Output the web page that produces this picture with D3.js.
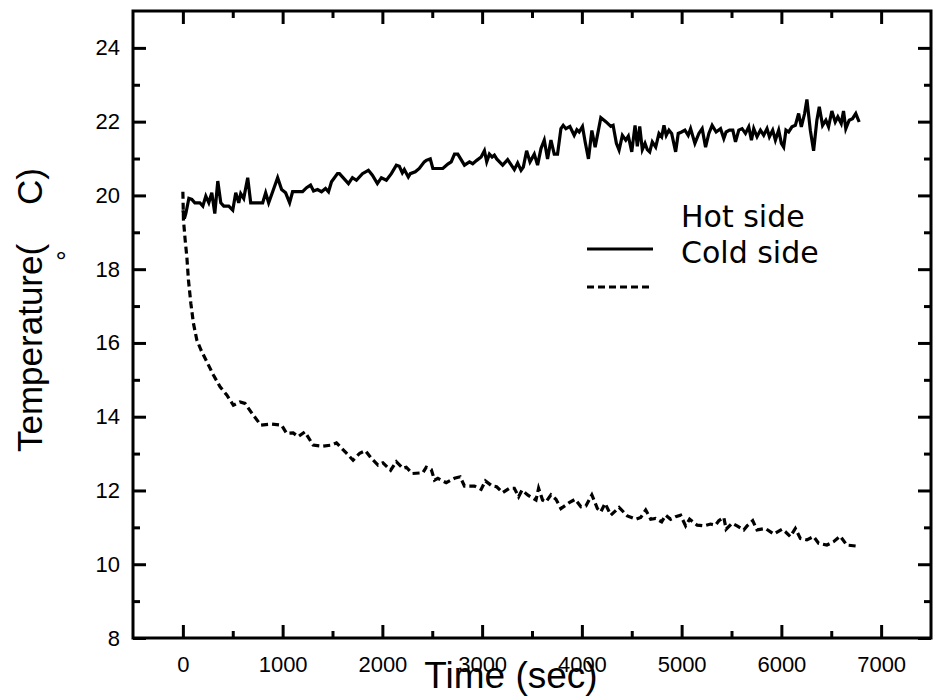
<!DOCTYPE html>
<html><head><meta charset="utf-8">
<script src="https://cdnjs.cloudflare.com/ajax/libs/d3/7.8.5/d3.min.js"></script>
<style>
html,body{margin:0;padding:0;background:#fff;}
svg{display:block;}
</style></head>
<body><svg id="c" width="937" height="696"></svg>
<script>
// ---- data ----
const hotTime = [0,15,30,60,90,120,170,200,230,260,290,320,350,380,410,460,500,530,560,580,610,650,680,800,830,860,900,950,990,1030,1070,1100,1200,1240,1280,1310,1350,1390,1430,1460,1490,1550,1570,1660,1700,1740,1800,1860,1900,1950,1990,2040,2090,2140,2170,2200,2220,2260,2280,2330,2370,2420,2440,2480,2506,2606,2656,2690,2723,2756,2823,2873,2906,2946,2990,3023,3046,3073,3100,3123,3146,3206,3256,3323,3356,3390,3413,3446,3480,3523,3556,3590,3623,3656,3690,3723,3756,3790,3813,3840,3880,3923,3950,3973,4006,4033,4066,4100,4133,4190,4240,4290,4313,4346,4373,4406,4440,4466,4500,4533,4556,4580,4606,4633,4656,4680,4706,4740,4773,4800,4823,4846,4873,4900,4940,4966,5000,5033,5066,5090,5133,5173,5206,5240,5273,5306,5346,5390,5423,5446,5480,5513,5540,5573,5606,5640,5673,5700,5723,5756,5790,5823,5856,5880,5913,5940,5973,6000,6023,6046,6073,6106,6140,6173,6200,6233,6256,6290,6323,6356,6380,6413,6446,6473,6506,6540,6566,6600,6623,6646,6680,6713,6746,6780];
const hotTemp = [19.60,19.37,19.51,19.92,19.89,19.80,19.80,19.71,19.98,19.80,20.07,19.51,20.39,19.80,19.71,19.71,19.60,20.07,19.80,20.05,19.92,20.48,19.80,19.80,20.07,19.80,20.10,20.48,20.16,20.07,19.80,20.10,20.10,20.21,20.28,20.12,20.16,20.10,20.19,20.10,20.37,20.59,20.59,20.32,20.48,20.41,20.59,20.68,20.55,20.32,20.48,20.41,20.59,20.82,20.79,20.61,20.70,20.50,20.59,20.64,20.73,20.91,20.95,20.99,20.73,20.73,20.85,20.91,21.12,21.12,20.82,20.91,20.86,20.95,21.04,21.21,20.91,21.12,21.04,21.09,20.99,20.82,20.97,20.70,20.88,20.68,20.77,21.21,20.91,21.12,20.82,21.27,21.50,20.99,21.50,21.12,21.12,21.81,21.90,21.81,21.87,21.63,21.78,21.72,21.87,21.45,20.99,21.76,21.31,22.11,22.00,21.87,21.90,21.41,21.23,21.63,21.50,21.61,21.18,21.90,21.33,21.87,21.24,21.41,21.24,21.18,21.45,21.31,21.68,21.59,21.90,21.63,21.77,21.68,21.18,21.68,21.72,21.77,21.63,21.81,21.41,21.68,21.81,21.31,21.68,21.90,21.72,21.81,21.54,21.72,21.77,21.77,21.45,21.77,21.81,21.68,21.86,21.50,21.81,21.59,21.77,21.63,21.81,21.59,21.77,21.50,21.77,21.41,21.31,21.77,21.72,21.86,21.90,22.22,21.86,22.22,22.60,21.77,21.21,22.04,22.40,21.90,22.04,21.86,22.29,21.99,22.13,21.95,22.29,21.81,22.04,22.08,22.22,21.99];
const coldTime = [0,6,23,40,56,80,106,140,183,240,306,373,440,506,573,623,706,783,890,990,1040,1106,1156,1223,1306,1406,1490,1540,1640,1706,1773,1830,1890,1956,2006,2083,2140,2206,2240,2300,2406,2440,2490,2523,2556,2640,2723,2780,2823,2923,2990,3033,3100,3146,3206,3273,3323,3366,3400,3456,3540,3566,3606,3640,3690,3740,3790,3873,3933,3990,4040,4100,4156,4190,4233,4290,4373,4456,4540,4590,4640,4690,4740,4800,4840,4890,4940,4990,5040,5080,5156,5223,5290,5340,5373,5423,5446,5506,5556,5623,5656,5713,5756,5840,5923,6006,6040,6090,6140,6190,6256,6323,6373,6456,6523,6590,6656,6756];
const coldTemp = [20.10,19.33,18.79,18.33,17.70,17.07,16.53,16.08,15.80,15.49,15.13,14.81,14.59,14.31,14.40,14.36,14.04,13.77,13.80,13.77,13.55,13.56,13.46,13.59,13.23,13.20,13.23,13.29,13.01,12.82,13.01,13.08,12.87,12.69,12.75,12.55,12.78,12.60,12.63,12.46,12.48,12.63,12.57,12.28,12.33,12.21,12.33,12.37,12.12,12.12,12.03,12.26,12.12,12.10,11.94,12.06,12.06,11.83,12.01,11.88,11.74,12.06,11.74,11.69,11.88,11.76,11.51,11.67,11.76,11.56,11.58,11.88,11.51,11.42,11.65,11.33,11.54,11.31,11.22,11.27,11.47,11.22,11.24,11.15,11.33,11.22,11.29,11.33,11.04,11.22,11.06,11.04,11.09,11.06,11.18,11.27,10.95,11.11,11.04,10.93,11.04,11.18,10.93,10.97,10.82,10.95,10.88,10.75,10.97,10.70,10.66,10.75,10.57,10.52,10.61,10.76,10.52,10.49];
const xMajor = [0,1000,2000,3000,4000,5000,6000,7000];
const xMinor = [500,1500,2500,3500,4500,5500,6500];
const yMajor = [8,10,12,14,16,18,20,22,24];
const yMinor = [9,11,13,15,17,19,21,23];
const seriesNames = ["Hot side","Cold side"];
const xTitle = "Time (sec)";
const yTitle = "Temperature(";
const yTitleEnd = "C)";

// ---- drawing ----
const ARIAL = "Liberation Sans, Arial, sans-serif";
const LEG = "DejaVu Sans, sans-serif";
const svg = d3.select("#c");
const L=133, R=931, T=11, B=638;
const x = d3.scaleLinear().domain([-500,7500]).range([L,R]);
const y = d3.scaleLinear().domain([8,25]).range([B,T]);

function styleAxis(g){
  g.select(".domain").remove();
  g.selectAll(".tick line").attr("stroke","#000").attr("stroke-width",3);
  g.selectAll(".tick text").attr("font-size",22).attr("font-family",ARIAL).attr("fill","#000");
}
// bottom
svg.append("g").attr("transform",`translate(0,${B})`)
  .call(d3.axisBottom(x).tickValues(xMajor).tickSize(-13).tickPadding(18).tickFormat(d3.format("d"))).call(styleAxis);
svg.append("g").attr("transform",`translate(0,${B})`)
  .call(d3.axisBottom(x).tickValues(xMinor).tickSize(-7).tickFormat("")).call(styleAxis);
// top
svg.append("g").attr("transform",`translate(0,${T})`)
  .call(d3.axisTop(x).tickValues(xMajor).tickSize(-13).tickFormat("")).call(styleAxis);
svg.append("g").attr("transform",`translate(0,${T})`)
  .call(d3.axisTop(x).tickValues(xMinor).tickSize(-7).tickFormat("")).call(styleAxis);
// left
svg.append("g").attr("transform",`translate(${L},0)`)
  .call(d3.axisLeft(y).tickValues(yMajor).tickSize(-13).tickPadding(13).tickFormat(d3.format("d"))).call(styleAxis);
svg.append("g").attr("transform",`translate(${L},0)`)
  .call(d3.axisLeft(y).tickValues(yMinor).tickSize(-7).tickFormat("")).call(styleAxis);
// right
svg.append("g").attr("transform",`translate(${R},0)`)
  .call(d3.axisRight(y).tickValues(yMajor).tickSize(-13).tickFormat("")).call(styleAxis);
svg.append("g").attr("transform",`translate(${R},0)`)
  .call(d3.axisRight(y).tickValues(yMinor).tickSize(-7).tickFormat("")).call(styleAxis);

// frame
svg.append("rect").attr("x",L).attr("y",T).attr("width",R-L).attr("height",B-T)
  .attr("fill","none").attr("stroke","#000").attr("stroke-width",3);

const line = d3.line().x(d=>x(d[0])).y(d=>y(d[1]));
const hot = hotTime.map((t,i)=>[t,hotTemp[i]]);
const cold = coldTime.map((t,i)=>[t,coldTemp[i]]);
svg.append("path").datum(hot).attr("d",line).attr("fill","none").attr("stroke","#000").attr("stroke-width",3.2).attr("stroke-linejoin","miter");
svg.append("path").datum(cold).attr("d",line).attr("fill","none").attr("stroke","#000").attr("stroke-width",3.2).attr("stroke-dasharray","7,4");

// legend
const lg = svg.append("g");
lg.append("text").attr("x",681).attr("y",227).attr("font-size",30).attr("font-family",LEG).text(seriesNames[0]);
lg.append("text").attr("x",681).attr("y",263).attr("font-size",30).attr("font-family",LEG).text(seriesNames[1]);
lg.append("line").attr("x1",587).attr("x2",653).attr("y1",249).attr("y2",249).attr("stroke","#000").attr("stroke-width",3.2);
lg.append("line").attr("x1",587).attr("x2",653).attr("y1",287).attr("y2",287).attr("stroke","#000").attr("stroke-width",3.2).attr("stroke-dasharray","7,4");

// axis titles
svg.append("text").attr("x",511).attr("y",688).attr("text-anchor","middle").attr("font-size",37).attr("font-family",ARIAL).text(xTitle);
svg.append("text").attr("transform","translate(42,452) rotate(-90)").attr("font-size",35).attr("font-family",ARIAL).text(yTitle);
svg.append("text").attr("transform","translate(42,205) rotate(-90)").attr("font-size",35).attr("font-family",ARIAL).text(yTitleEnd);
svg.append("text").attr("x",61).attr("y",271).attr("text-anchor","middle").attr("font-size",28).attr("font-family",ARIAL).text("°");
</script></body></html>
